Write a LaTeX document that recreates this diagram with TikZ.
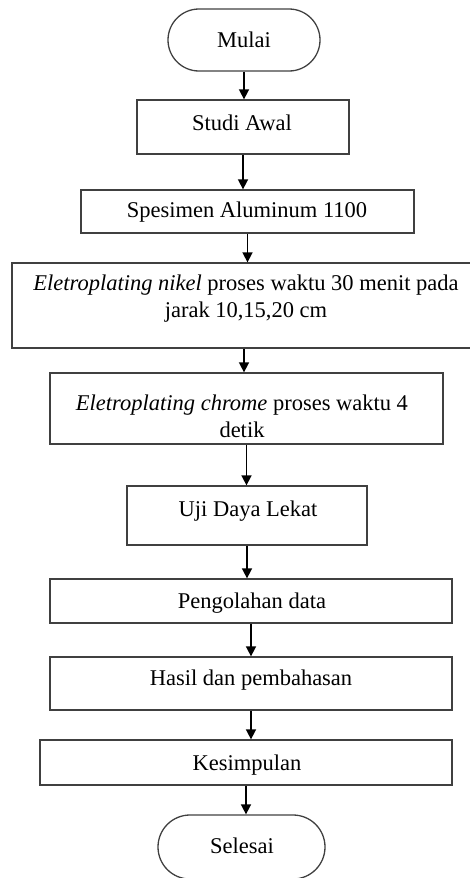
\documentclass[tikz,border=0pt]{standalone}
\usepackage{fontspec}
\setmainfont{Liberation Serif}
\usetikzlibrary{arrows.meta,shapes.misc}

\tikzset{
  kotak/.style={draw=black!75, line width=1.3pt, rectangle, inner sep=0pt},
  ujung/.style={draw=black!75, line width=1.3pt, rounded rectangle, inner sep=0pt},
  teks/.style={font=\fontsize{22.5}{27}\selectfont, align=center, inner sep=0pt},
  alir/.style={line width=1.6pt, -{Triangle[width=10pt,length=10pt]}}
}

\begin{document}
\begin{tikzpicture}[x=1pt, y=-1pt]
	\useasboundingbox (0,0) rectangle (470,878);
	\clip (0,0) rectangle (470,878);

	% kotak
	\node[ujung, minimum width=152pt, minimum height=62pt] (mulai) at (244,40) {};
	\node[kotak, minimum width=212pt, minimum height=54pt] (studi) at (243,127) {};
	\node[kotak, minimum width=333pt, minimum height=43pt] (spesimen) at (247.5,211.5) {};
	\node[kotak, minimum width=464pt, minimum height=85pt] (nikel) at (244,305.5) {};
	\node[kotak, minimum width=393pt, minimum height=71pt] (chrome) at (246.5,408.5) {};
	\node[kotak, minimum width=240pt, minimum height=59pt] (uji) at (247,515.5) {};
	\node[kotak, minimum width=402pt, minimum height=44pt] (olah) at (251,601) {};
	\node[kotak, minimum width=402pt, minimum height=53pt] (hasil) at (251,683.5) {};
	\node[kotak, minimum width=412pt, minimum height=45pt] (simpul) at (246,762.5) {};
	\node[ujung, minimum width=167pt, minimum height=64pt] (selesai) at (241.5,847) {};

	% tulisan
	\node[teks] (t-mulai) at (244,39.5) {Mulai};
	\node[teks] (t-studi) at (242,123) {Studi Awal};
	\node[teks] (t-spesimen) at (247,212) {Spesimen Aluminum 1100};
	\node[teks] (t-nikel) at (246,298.5) {\textit{Eletroplating nikel} proses waktu 30 menit pada\\jarak 10,15,20 cm};
	\node[teks] (t-chrome) at (242,416) {\textit{Eletroplating chrome} proses waktu 4\\detik};
	\node[teks] (t-uji) at (248,511) {Uji Daya Lekat};
	\node[teks] (t-olah) at (252,603) {Pengolahan data};
	\node[teks] (t-hasil) at (251,680) {Hasil dan pembahasan};
	\node[teks] (t-simpul) at (247,765) {Kesimpulan};
	\node[teks] (t-selesai) at (242,846) {Selesai};

	% panah
	\foreach \a/\b in {mulai/studi, studi/spesimen, spesimen/nikel, nikel/chrome,
		chrome/uji, uji/olah, olah/hasil, hasil/simpul, simpul/selesai}
		\draw[alir] (\a.south) -- (\a.south |- \b.north);
\end{tikzpicture}
\end{document}
